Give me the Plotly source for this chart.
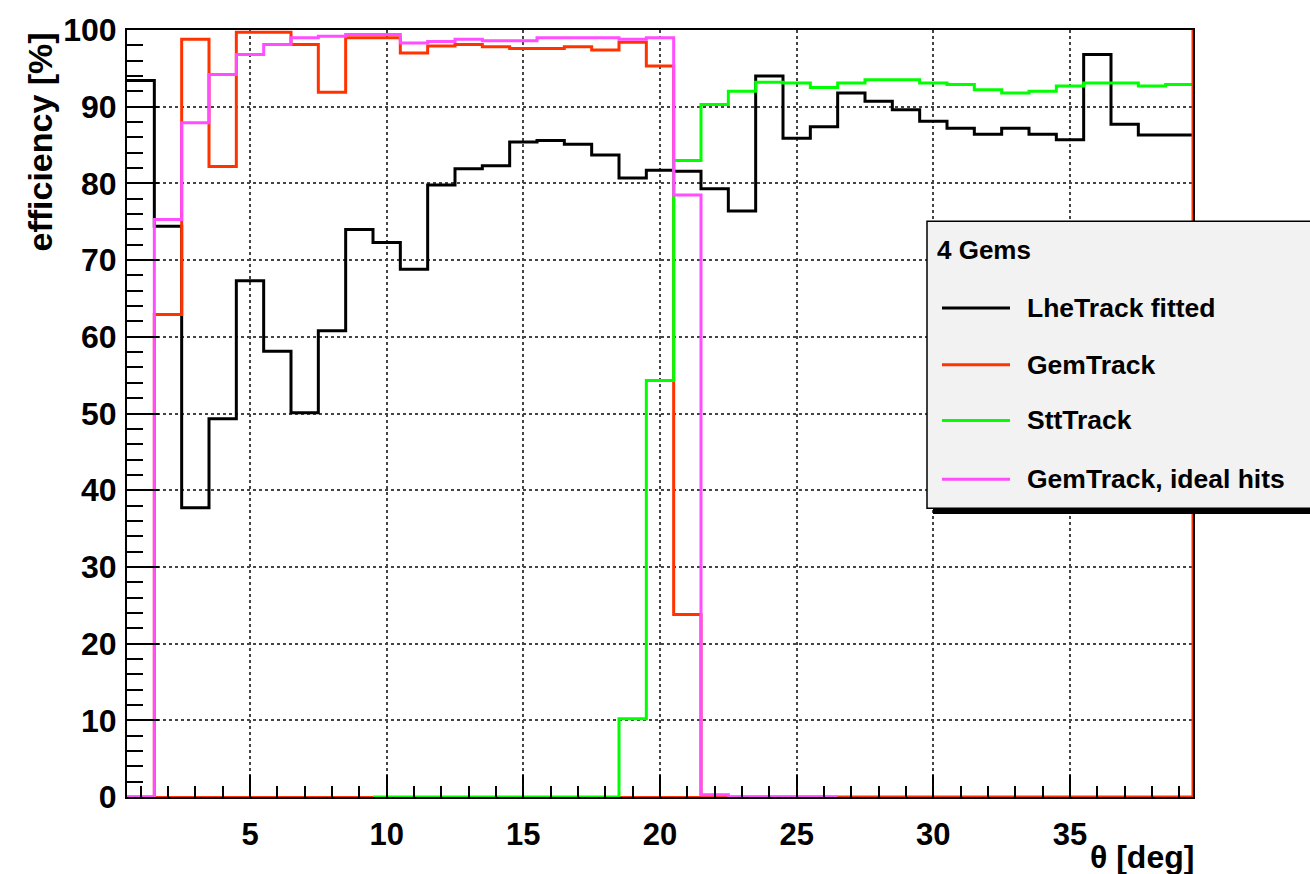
import plotly.graph_objects as go

# ---------------- data ----------------
theta = list(range(1, 40))  # bin centres [deg], bin width 1

lhe_fitted = [93.4, 74.4, 37.7, 49.3, 67.3, 58.1, 50.1, 60.8, 74.0, 72.3,
              68.8, 79.8, 81.9, 82.3, 85.4, 85.6, 85.1, 83.7, 80.7, 81.7,
              81.6, 79.3, 76.4, 94.0, 85.9, 87.4, 91.8, 90.7, 89.6, 88.1,
              87.2, 86.4, 87.2, 86.4, 85.7, 96.8, 87.7, 86.3, 86.3]

gem_track = [0.0, 62.9, 98.8, 82.2, 99.7, 99.7, 98.1, 91.9, 99.0, 99.0,
             97.0, 97.9, 98.1, 97.8, 97.6, 97.6, 97.8, 97.4, 98.4, 95.3,
             23.8, 0.0, 0.0, 0.0, 0.0, 0.0, 0.0, 0.0, 0.0, 0.0,
             0.0, 0.0, 0.0, 0.0, 0.0, 0.0, 0.0, 0.0, 0.0]

# SttTrack histogram starts at theta bin 10
stt_theta = list(range(10, 40))
stt_track = [0.0, 0.0, 0.0, 0.0, 0.0, 0.0, 0.0, 0.0, 0.0, 10.2,
             54.3, 83.0, 90.3, 92.0, 93.2, 93.1, 92.5, 93.1, 93.5, 93.5,
             93.1, 92.9, 92.2, 91.8, 92.0, 92.7, 93.1, 93.1, 92.7, 92.9]

# GemTrack with ideal hits histogram ends at theta bin 26
ideal_theta = list(range(1, 27))
gem_ideal = [0.0, 75.3, 87.9, 94.2, 96.8, 98.1, 99.0, 99.2, 99.4, 99.4,
             98.3, 98.5, 98.8, 98.6, 98.6, 99.0, 99.0, 99.0, 98.8, 99.0,
             78.5, 0.3, 0.0, 0.0, 0.0, 0.0]

series_names = ["LheTrack fitted", "GemTrack", "SttTrack", "GemTrack, ideal hits"]
series_colors = ["#000000", "#ff3300", "#00ff00", "#ff4dff"]
legend_title = "4 Gems"

x_title = "θ [deg]"
y_title = "efficiency [%]"
x_range = [0.5, 39.5]
y_range = [0, 100]

# ---------------- helpers ----------------
def step_xy(centres, values, width=1.0):
    xs = [c - width / 2 for c in centres] + [centres[-1] + width / 2]
    ys = list(values) + [values[-1]]
    return xs, ys

W, H = 1310, 874
L, R, T, B = 127, 117, 27, 77
PW, PH = W - L - R, H - T - B

def px(xp):
    return (xp - L) / PW

def py(yp):
    return (H - B - yp) / PH

FONT = "Liberation Sans"

fig = go.Figure()

all_series = [(theta, lhe_fitted), (theta, gem_track),
              (stt_theta, stt_track), (ideal_theta, gem_ideal)]
for (cx, vals), name, col in zip(all_series, series_names, series_colors):
    xs, ys = step_xy(cx, vals)
    fig.add_trace(go.Scatter(x=xs, y=ys, mode="lines", name=name,
                             line=dict(color=col, width=3, shape="hv"),
                             showlegend=False, hoverinfo="skip"))

# red baseline and closing line of the GemTrack drawing at the right edge
fig.add_shape(type="line", xref="x", yref="y", x0=x_range[0], x1=x_range[1],
              y0=y_range[0], y1=y_range[0], line=dict(color=series_colors[1], width=2),
              layer="below")
fig.add_shape(type="line", xref="x", yref="y", x0=x_range[1], x1=x_range[1],
              y0=y_range[0], y1=y_range[1], line=dict(color=series_colors[1], width=3),
              layer="above")

# ---------------- custom legend ----------------
box_l, box_t, box_r, box_b = 927, 219, 1330, 507
shadow = 6
fig.add_shape(type="rect", xref="paper", yref="paper",
              x0=px(box_l + shadow), x1=px(box_r + shadow),
              y0=py(box_b + shadow), y1=py(box_t + shadow),
              fillcolor="#000000", line=dict(width=0), layer="above")
fig.add_shape(type="rect", xref="paper", yref="paper",
              x0=px(box_l), x1=px(box_r), y0=py(box_b), y1=py(box_t),
              fillcolor="#f2f2f2", line=dict(color="#000000", width=1.5), layer="above")
fig.add_annotation(xref="paper", yref="paper", x=px(935), y=py(248),
                   xanchor="left", yanchor="middle", showarrow=False,
                   text=legend_title,
                   font=dict(family=FONT, size=26, color="#000000", weight="bold"))
entry_y = [306, 363, 419, 478]
for name, col, ey in zip(series_names, series_colors, entry_y):
    fig.add_shape(type="line", xref="paper", yref="paper",
                  x0=px(942), x1=px(1010), y0=py(ey), y1=py(ey),
                  line=dict(color=col, width=3), layer="above")
    fig.add_annotation(xref="paper", yref="paper", x=px(1025), y=py(ey),
                       xanchor="left", yanchor="middle", showarrow=False,
                       text=name,
                       font=dict(family=FONT, size=26.5, color="#000000", weight="bold"))

# ---------------- axis titles ----------------
fig.add_annotation(xref="paper", yref="paper", x=px(1196), y=py(857),
                   xanchor="right", yanchor="middle", showarrow=False,
                   text=x_title,
                   font=dict(family=FONT, size=32, color="#000000", weight="bold"))
fig.add_annotation(xref="paper", yref="paper", x=px(40), y=py(28),
                   xanchor="center", yanchor="top", showarrow=False,
                   textangle=-90, text=y_title,
                   font=dict(family=FONT, size=34, color="#000000", weight="bold"))

grid_kw = dict(showgrid=True, gridcolor="#444444", gridwidth=1.5, griddash="dot")

fig.update_xaxes(range=x_range, tick0=0, dtick=5, ticks="inside", ticklen=22,
                 tickwidth=1.5, tickcolor="#000000",
                 minor=dict(dtick=1, tick0=0, ticks="inside", ticklen=11,
                            tickwidth=1.5, tickcolor="#000000", showgrid=False),
                 showline=True, linecolor="#000000", linewidth=2, mirror=True,
                 zeroline=False, ticklabelstandoff=9,
                 tickfont=dict(family=FONT, size=31, color="#000000", weight="bold"),
                 **grid_kw)
fig.update_yaxes(range=y_range, tick0=0, dtick=10, ticks="inside", ticklen=32,
                 tickwidth=1.5, tickcolor="#000000",
                 minor=dict(dtick=2, tick0=0, ticks="inside", ticklen=16,
                            tickwidth=1.5, tickcolor="#000000", showgrid=False),
                 showline=True, linecolor="#000000", linewidth=2, mirror=True,
                 zeroline=False, ticklabelstandoff=2,
                 tickfont=dict(family=FONT, size=32, color="#000000", weight="bold"),
                 **grid_kw)

fig.update_layout(width=W, height=H, margin=dict(l=L, r=R, t=T, b=B),
                  paper_bgcolor="#ffffff", plot_bgcolor="#ffffff",
                  showlegend=False)

fig.write_html("out.html")
